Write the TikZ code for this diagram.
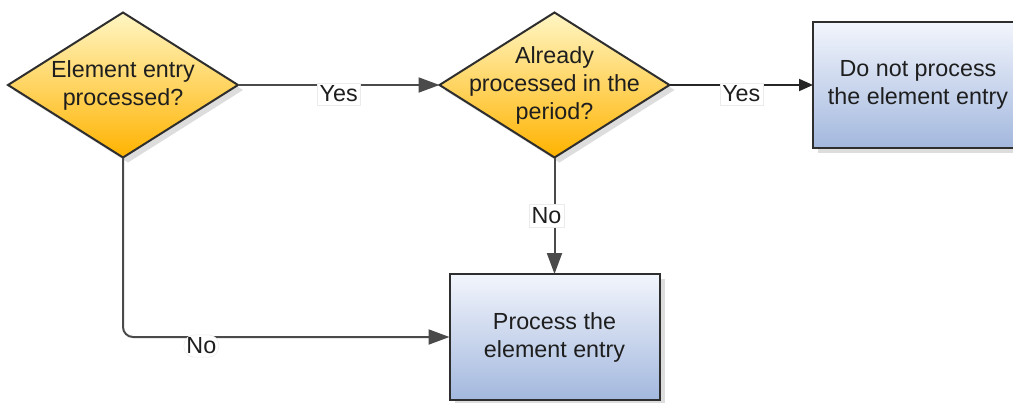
\documentclass[tikz,border=0pt]{standalone}
\usepackage{fontspec}
\setmainfont{Liberation Sans}
\usetikzlibrary{shapes.geometric,arrows.meta,shadows}
\definecolor{dtop}{HTML}{FFF6C4}
\definecolor{dbot}{HTML}{FFB300}
\definecolor{btop}{HTML}{F2F5FC}
\definecolor{bbot}{HTML}{A3B8DE}
\definecolor{edge}{HTML}{2E2E2E}
\definecolor{conncol}{HTML}{4A4A4A}
\definecolor{txt}{HTML}{1E1E1E}
\tikzset{
  every node/.style={font=\fontsize{23.3}{28}\selectfont, text=txt},
  decision/.style={diamond, draw=edge, line width=2pt, minimum width=230pt, minimum height=145pt,
    inner sep=0pt, outer sep=0pt, top color=dtop, bottom color=dbot,
    drop shadow={shadow xshift=5pt, shadow yshift=-5pt, fill=black!22, opacity=.6}},
  dtext/.style={align=center, inner sep=0pt},
  procbox/.style={rectangle, draw=edge, line width=2pt, minimum width=210pt, minimum height=126pt,
    inner sep=0pt, outer sep=0pt, top color=btop, bottom color=bbot, align=center,
    drop shadow={shadow xshift=5pt, shadow yshift=-5pt, fill=black!22, opacity=.6}},
  conn/.style={draw=conncol, line width=2pt, -{Triangle[length=21pt,width=15pt]}},
  connsmall/.style={draw=black!85, line width=2pt, -{Triangle[length=14pt,width=12pt]}},
  lbl/.style={fill=white, draw=black!8, line width=0.5pt, inner sep=2.5pt, text depth=0.2ex}
}
\begin{document}
\begin{tikzpicture}[x=1pt,y=-1pt]
\useasboundingbox (0,0) rectangle (1013,402);
\begin{scope}
\clip (0,0) rectangle (1013,402);
\node[decision] (d1) at (123,85) {};
\node[dtext] (d1t) at (d1.center) {Element entry\\processed?};
\node[decision] (d2) at (554.5,85) {};
\node[dtext] (d2t) at (d2.center) {Already\\processed in the\\period?};
\node[procbox, minimum width=214pt] (b1) at (920,85) {};
\node[align=center, inner sep=0pt] (b1t) at (918,85) {Do not process\\the element entry};
\node[procbox] (b2) at (554.5,337) {Process the\\element entry};
\end{scope}
\draw[conn] (d1.east) -- node[lbl, pos=0.5, yshift=-9pt] {Yes} (d2.west);
\draw[connsmall] (d2.east) -- node[lbl, pos=0.5, yshift=-9pt] {Yes} (b1.west);
\draw[conn] (d2.south) -- node[lbl, pos=0.5, xshift=-8pt] {No} (b2.north);
\draw[conn, rounded corners=10pt] (d1.south) |- node[lbl, pos=0.62, yshift=-9pt] {No} (b2.west);
\end{tikzpicture}
\end{document}
